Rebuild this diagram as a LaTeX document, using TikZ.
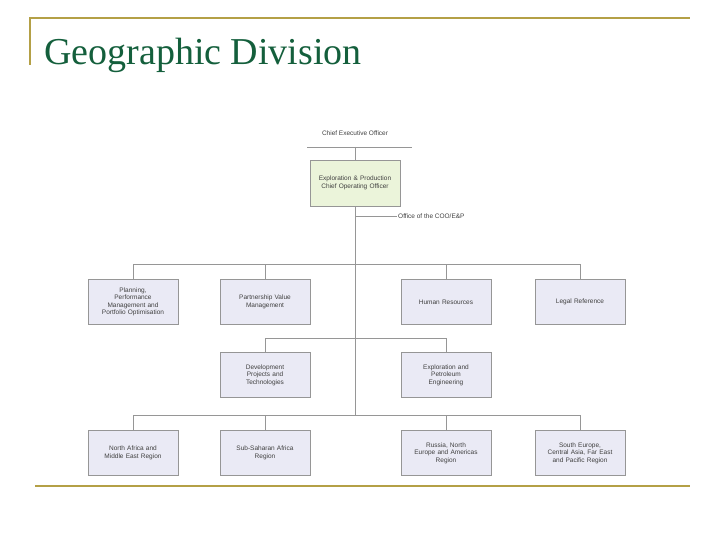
\documentclass[tikz,border=0pt]{standalone}
\usepackage{fontspec}
\setmainfont{Liberation Serif}
\newfontfamily\boxfont{Liberation Sans}
\definecolor{gold}{RGB}{180,160,70}
\definecolor{ttl}{RGB}{20,95,60}
\definecolor{lgreen}{RGB}{235,244,218}
\definecolor{lav}{RGB}{234,234,245}
\definecolor{ln}{RGB}{150,150,150}
\begin{document}
\begin{tikzpicture}[x=1pt,y=-1pt,
  bx/.style={draw=ln,fill=lav,minimum width=90,minimum height=45,align=center,font=\boxfont\fontsize{6.5}{7.5}\selectfont,text=black!75,inner sep=1pt,text width=86},
  lbl/.style={font=\boxfont\fontsize{6.5}{7.5}\selectfont,text=black!75},
  cn/.style={draw=ln,line width=0.8pt}]
\useasboundingbox (0,0) rectangle (720,540);
\draw[gold,line width=1.5pt] (30,65) -- (30,18) -- (690,18);
\draw[gold,line width=1.5pt] (35,486) -- (690,486);
\node[anchor=base west,text=ttl,font=\fontsize{38}{40}\selectfont,inner sep=0] (title) at (44,65) {Geographic Division};
\node[lbl] (ceo) at (355,133) {Chief Executive Officer};
\coordinate (ceol) at (307,147); \coordinate (ceor) at (412,147); \coordinate (ceom) at (355,147);
\draw[cn] (ceol) -- (ceor);
\node[bx,fill=lgreen,minimum height=46] (coo) at (355,183) {Exploration \& Production\\Chief Operating Officer};
\draw[cn] (ceom) -- (coo.north);
\coordinate (bot) at (355,415);
\draw[cn] (coo.south) -- (bot);
\coordinate (off) at (355,216);
\node[lbl,anchor=west,inner sep=1pt] (office) at (397,216) {Office of the COO/E\&P};
\draw[cn] (off) -- (office.west);
\node[bx] (p1) at (133,302) {Planning,\\Performance\\Management and\\Portfolio Optimisation};
\node[bx] (p2) at (265,302) {Partnership Value\\Management};
\node[bx] (p3) at (446,302) {Human Resources};
\node[bx] (p4) at (580,302) {Legal Reference};
\node[bx] (d1) at (265,375) {Development\\Projects and\\Technologies};
\node[bx] (d2) at (446,375) {Exploration and\\Petroleum\\Engineering};
\node[bx] (r1) at (133,453) {North Africa and\\Middle East Region};
\node[bx] (r2) at (265,453) {Sub-Saharan Africa\\Region};
\node[bx] (r3) at (446,453) {Russia, North\\Europe and Americas\\Region};
\node[bx] (r4) at (580,453) {South Europe,\\Central Asia, Far East\\and Pacific Region};
\draw[cn] (p1.north) -- ++(0,-15) -| (p4.north);
\draw[cn] (p2.north) -- ++(0,-15); \draw[cn] (p3.north) -- ++(0,-15);
\draw[cn] (d1.north) -- ++(0,-14) -| (d2.north);
\draw[cn] (r1.north) -- ++(0,-15) -| (r4.north);
\draw[cn] (r2.north) -- ++(0,-15); \draw[cn] (r3.north) -- ++(0,-15);
\end{tikzpicture}
\end{document}
